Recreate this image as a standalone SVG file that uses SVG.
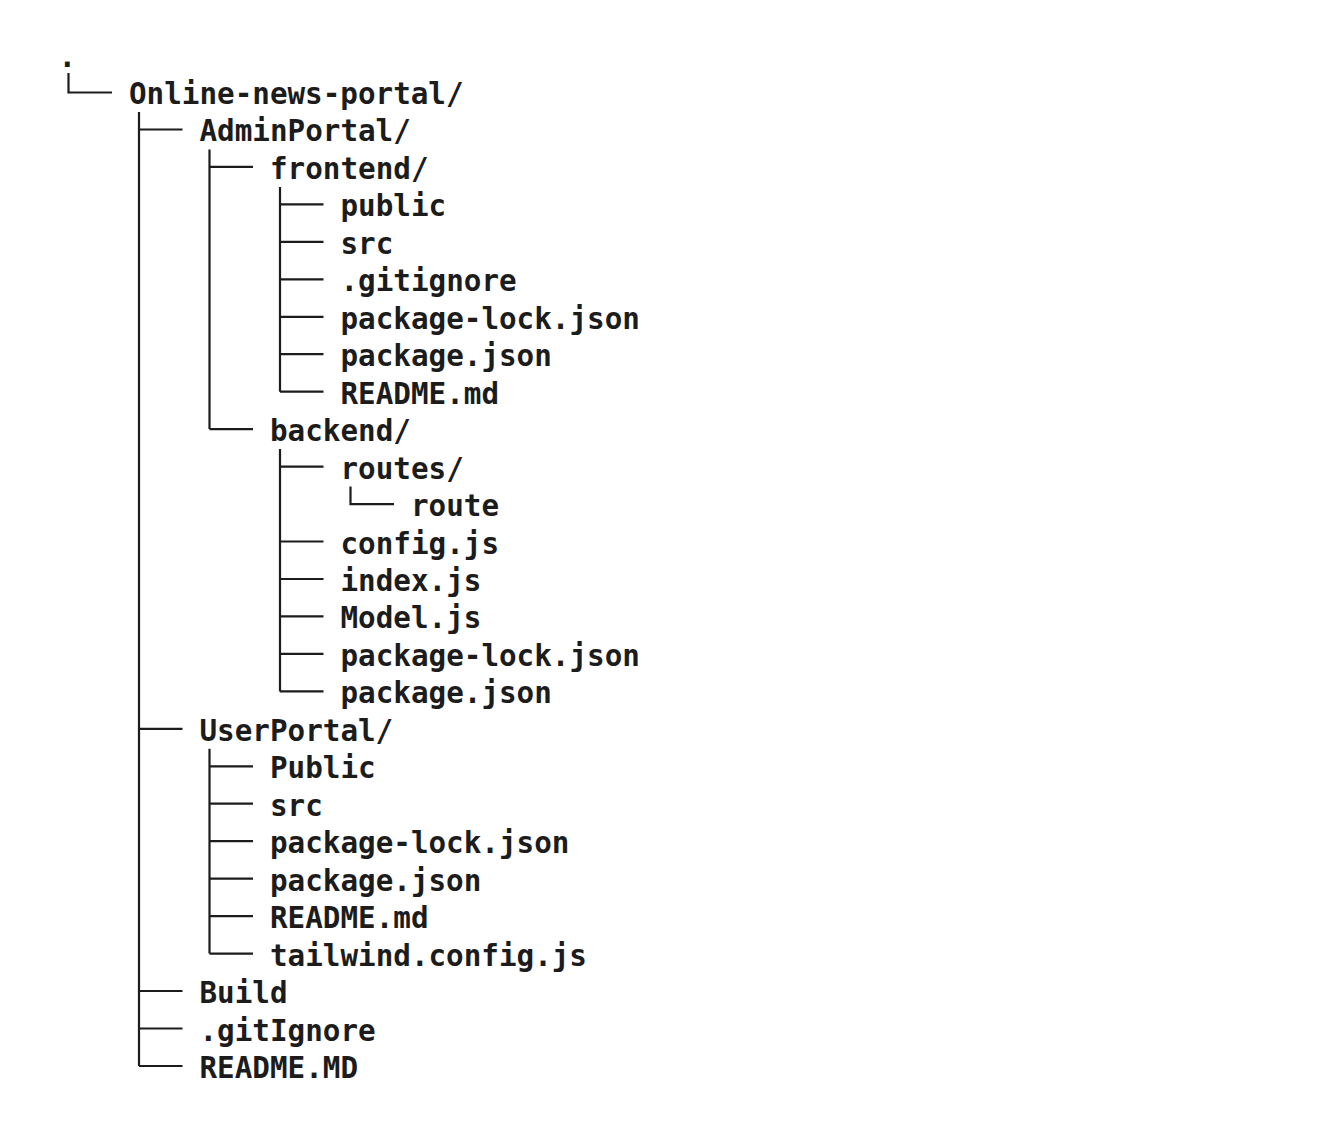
<svg xmlns="http://www.w3.org/2000/svg" width="1322" height="1142" viewBox="0 0 1322 1142">
<style>
.t{font-family:"DejaVu Sans Mono","Liberation Mono",monospace;font-weight:bold;font-size:29.25px;fill:#1c1c1c}
.c{fill:none;stroke:#1c1c1c;stroke-width:2.2}
</style>
<rect width="1322" height="1142" fill="#ffffff"/>
<g id="connectors" class="c">
<path d="M68.5 73V92.5H112"/>
<path d="M139 112V1066M139 129.5H182.5M139 728.8H182.5M139 991H182.5M139 1028.5H182.5M139 1066H182.5"/>
<path d="M209.5 149.5V429.1M209.5 166.9H253M209.5 429.1H253"/>
<path d="M280 187V391.7M280 204.4H323.5M280 241.8H323.5M280 279.3H323.5M280 316.8H323.5M280 354.2H323.5M280 391.7H323.5"/>
<path d="M280 449V691.4M280 466.6H323.5M280 541.5H323.5M280 579H323.5M280 616.4H323.5M280 653.9H323.5M280 691.4H323.5"/>
<path d="M350.5 486.6V504.1H394"/>
<path d="M209.5 748.8V953.6M209.5 766.3H253M209.5 803.7H253M209.5 841.2H253M209.5 878.7H253M209.5 916.1H253M209.5 953.6H253"/>
</g>
<g id="root"><text class="t" x="58.5" y="67">.</text></g>
<g id="online-news-portal"><text class="t" x="129" y="104">Online-news-portal/</text></g>
<g id="adminportal"><text class="t" x="199.5" y="141.46">AdminPortal/</text></g>
<g id="frontend"><text class="t" x="270" y="178.92">frontend/</text></g>
<g id="fe-public"><text class="t" x="340.5" y="216.38">public</text></g>
<g id="fe-src"><text class="t" x="340.5" y="253.84">src</text></g>
<g id="fe-gitignore"><text class="t" x="340.5" y="291.3">.gitignore</text></g>
<g id="fe-package-lock"><text class="t" x="340.5" y="328.76">package-lock.json</text></g>
<g id="fe-package"><text class="t" x="340.5" y="366.22">package.json</text></g>
<g id="fe-readme"><text class="t" x="340.5" y="403.68">README.md</text></g>
<g id="backend"><text class="t" x="270" y="441.14">backend/</text></g>
<g id="be-routes"><text class="t" x="340.5" y="478.6">routes/</text></g>
<g id="be-route"><text class="t" x="411" y="516.06">route</text></g>
<g id="be-config"><text class="t" x="340.5" y="553.52">config.js</text></g>
<g id="be-index"><text class="t" x="340.5" y="590.98">index.js</text></g>
<g id="be-model"><text class="t" x="340.5" y="628.44">Model.js</text></g>
<g id="be-package-lock"><text class="t" x="340.5" y="665.9">package-lock.json</text></g>
<g id="be-package"><text class="t" x="340.5" y="703.36">package.json</text></g>
<g id="userportal"><text class="t" x="199.5" y="740.82">UserPortal/</text></g>
<g id="up-public"><text class="t" x="270" y="778.28">Public</text></g>
<g id="up-src"><text class="t" x="270" y="815.74">src</text></g>
<g id="up-package-lock"><text class="t" x="270" y="853.2">package-lock.json</text></g>
<g id="up-package"><text class="t" x="270" y="890.66">package.json</text></g>
<g id="up-readme"><text class="t" x="270" y="928.12">README.md</text></g>
<g id="up-tailwind"><text class="t" x="270" y="965.58">tailwind.config.js</text></g>
<g id="build"><text class="t" x="199.5" y="1003.04">Build</text></g>
<g id="gitignore"><text class="t" x="199.5" y="1040.5">.gitIgnore</text></g>
<g id="readme"><text class="t" x="199.5" y="1077.96">README.MD</text></g>
</svg>
